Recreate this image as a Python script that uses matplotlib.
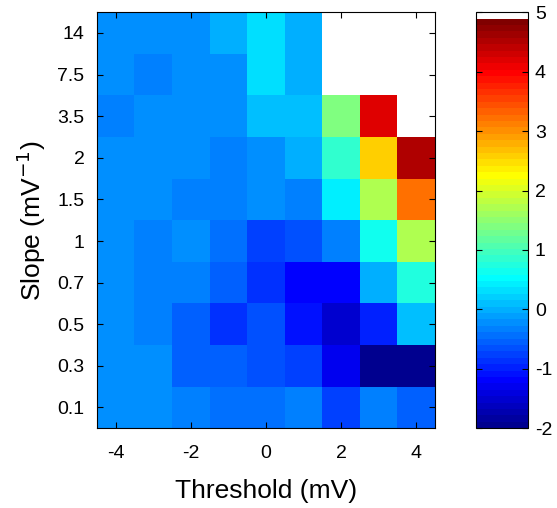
import numpy as np
import matplotlib.pyplot as plt
from matplotlib.colors import ListedColormap

plt.rcParams['font.family'] = ['Liberation Sans', 'DejaVu Sans']
plt.rcParams['axes.unicode_minus'] = False

threshold = [-4, -3, -2, -1, 0, 1, 2, 3, 4]
slope_labels = ["0.1", "0.3", "0.5", "0.7", "1", "1.5", "2", "3.5", "7.5", "14"]

# rows from slope 0.1 (bottom) to 14 (top), nan = not computed
values = np.array([
    [-0.22, -0.22, -0.33, -0.44, -0.44, -0.33, -0.76, -0.33, -0.55],   # 0.1
    [-0.22, -0.22, -0.55, -0.55, -0.65, -0.76, -1.30, -1.95, -1.95],   # 0.3
    [-0.22, -0.33, -0.55, -0.87, -0.65, -1.08, -1.52, -0.98, 0.10],    # 0.5
    [-0.22, -0.33, -0.33, -0.55, -0.87, -1.19, -1.19, -0.01, 0.75],    # 0.7
    [-0.22, -0.33, -0.22, -0.44, -0.76, -0.65, -0.33, 0.64, 1.72],     # 1
    [-0.22, -0.22, -0.33, -0.33, -0.22, -0.33, 0.42, 1.72, 3.22],      # 1.5
    [-0.22, -0.22, -0.22, -0.33, -0.22, -0.01, 0.85, 2.58, 4.52],      # 2
    [-0.33, -0.22, -0.22, -0.22, 0.10, 0.10, 1.39, 4.19, np.nan],      # 3.5
    [-0.22, -0.33, -0.22, -0.22, 0.32, -0.01, np.nan, np.nan, np.nan], # 7.5
    [-0.22, -0.22, -0.22, -0.01, 0.32, -0.01, np.nan, np.nan, np.nan], # 14
])

vmin, vmax = -2, 5


def matlab_jet(m=64):
    # same construction as MATLAB's jet(m)
    n = int(np.ceil(m / 4))
    u = np.concatenate([np.arange(1, n + 1) / n, np.ones(n - 1), np.arange(n, 0, -1) / n])
    g = int(np.ceil(n / 2)) - (1 if m % 4 == 1 else 0) + np.arange(1, len(u) + 1)
    r = g + n
    b = g - n
    J = np.zeros((m, 3))
    J[r[r <= m] - 1, 0] = u[r <= m]
    J[g[g <= m] - 1, 1] = u[g <= m]
    J[b[b >= 1] - 1, 2] = u[-len(b[b >= 1]):]
    return J


# jet with one white level on top for the missing cells
cmap = ListedColormap(np.vstack([matlab_jet(64), [1, 1, 1]]))
plot_vals = np.where(np.isnan(values), vmax, values)

fig = plt.figure(figsize=(5.57, 5.08), dpi=100)
ax = fig.add_axes([0.174, 0.157, 0.607, 0.819])
x_edges = np.arange(len(threshold) + 1) - 0.5 + threshold[0]
y_edges = np.arange(len(slope_labels) + 1) - 0.5
mesh = ax.pcolormesh(x_edges, y_edges, plot_vals, cmap=cmap, vmin=vmin, vmax=vmax)

ax.set_xticks([-4, -2, 0, 2, 4])
ax.set_yticks(np.arange(len(slope_labels)))
ax.set_yticklabels(slope_labels)
ax.tick_params(direction='in', top=True, right=True, labelsize=14, length=4)
ax.tick_params(axis='y', pad=9)
ax.tick_params(axis='x', pad=12)
ax.set_xlabel("Threshold (mV)", fontsize=19, labelpad=12)
ax.set_ylabel("Slope (mV$^{-1}$)", fontsize=19, labelpad=7)

cax = fig.add_axes([0.855, 0.157, 0.093, 0.819])
cb = fig.colorbar(mesh, cax=cax)
cb.set_ticks(range(-2, 6))
cb.ax.tick_params(direction='in', left=True, right=True, labelsize=14, length=4, pad=5)
cb.outline.set_linewidth(0.8)

fig.savefig("out.png", dpi=100)
